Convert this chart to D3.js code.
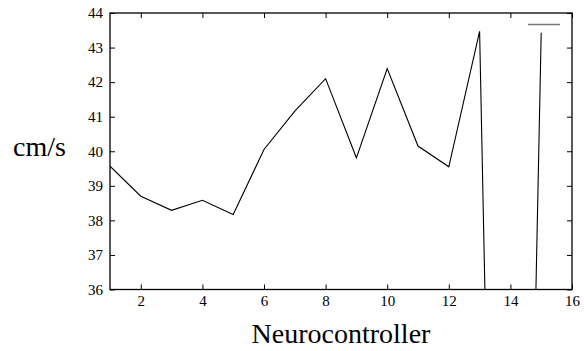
<!DOCTYPE html>
<html>
<head>
<meta charset="utf-8">
<script src="https://cdn.jsdelivr.net/npm/d3@7"></script>
<style>
  html, body { margin: 0; padding: 0; background: #fff; }
  svg { display: block; }
</style>
</head>
<body>
<svg id="chart" width="584" height="351"></svg>
<script>
// Speed per neurocontroller (cm/s)
const controllers = [1, 2, 3, 4, 5, 6, 7, 8, 9, 10, 11, 12, 13, 14, 15];
const speeds = [39.57, 38.70, 38.29, 38.58, 38.17, 40.05, 41.16, 42.10, 39.81, 42.39, 40.15, 39.55, 43.47, 0, 43.43];
const xTicks = [2, 4, 6, 8, 10, 12, 14, 16];
const yTicks = [36, 37, 38, 39, 40, 41, 42, 43, 44];
const xLabel = "Neurocontroller";
const yLabel = "cm/s";

const SERIF = "'Liberation Serif', 'DejaVu Serif', serif";
const svg = d3.select("#chart");
const m = { left: 110, right: 572, top: 13, bottom: 289.5 };

const x = d3.scaleLinear().domain([1, 16]).range([m.left, m.right]);
const y = d3.scaleLinear().domain([36, 44]).range([m.bottom, m.top]);

// clip the series to the plot frame
svg.append("clipPath").attr("id", "plotClip")
  .append("rect")
  .attr("x", m.left).attr("y", m.top)
  .attr("width", m.right - m.left).attr("height", m.bottom - m.top);

const data = controllers.map((c, i) => ({ c, v: speeds[i] }));
const line = d3.line().x(d => x(d.c)).y(d => y(d.v));

svg.append("path")
  .datum(data)
  .attr("clip-path", "url(#plotClip)")
  .attr("d", line)
  .attr("fill", "none")
  .attr("stroke", "#000")
  .attr("stroke-width", 1.1);

// inward ticks on all four sides (mirrored)
const tickLen = 5;
const fmt = d3.format("d");

const bottomAxis = d3.axisBottom(x).tickValues(xTicks).tickSize(-tickLen).tickPadding(6).tickFormat(fmt);
const topAxis = d3.axisTop(x).tickValues(xTicks).tickSize(-tickLen).tickFormat("");
const leftAxis = d3.axisLeft(y).tickValues(yTicks).tickSize(-tickLen).tickPadding(7).tickFormat(fmt);
const rightAxis = d3.axisRight(y).tickValues(yTicks).tickSize(-tickLen).tickFormat("");

function styleAxis(g) {
  g.attr("font-family", null).style("font-family", SERIF);
  g.select(".domain").remove();
  g.selectAll(".tick line").attr("stroke", "#000").attr("stroke-width", 1);
  g.selectAll(".tick text")
    .style("font-family", SERIF)
    .style("font-size", "15px").attr("fill", "#000");
}

svg.append("g").attr("transform", `translate(0,${m.bottom})`).call(bottomAxis).call(styleAxis);
svg.append("g").attr("transform", `translate(0,${m.top})`).call(topAxis).call(styleAxis);
svg.append("g").attr("transform", `translate(${m.left},0)`).call(leftAxis).call(styleAxis);
svg.append("g").attr("transform", `translate(${m.right},0)`).call(rightAxis).call(styleAxis);

// frame
svg.append("rect")
  .attr("x", m.left).attr("y", m.top)
  .attr("width", m.right - m.left).attr("height", m.bottom - m.top)
  .attr("fill", "none").attr("stroke", "#000").attr("stroke-width", 1.3);

// key sample line (untitled series)
svg.append("line")
  .attr("x1", 528).attr("x2", 560)
  .attr("y1", 24.5).attr("y2", 24.5)
  .attr("stroke", "#777").attr("stroke-width", 1.5);

// axis titles
svg.append("text")
  .attr("x", (m.left + m.right) / 2).attr("y", 343)
  .attr("text-anchor", "middle")
  .style("font-family", SERIF).style("font-size", "28px")
  .text(xLabel);

svg.append("text")
  .attr("x", 13).attr("y", 156)
  .style("font-family", SERIF).style("font-size", "28px")
  .text(yLabel);
</script>
</body>
</html>
